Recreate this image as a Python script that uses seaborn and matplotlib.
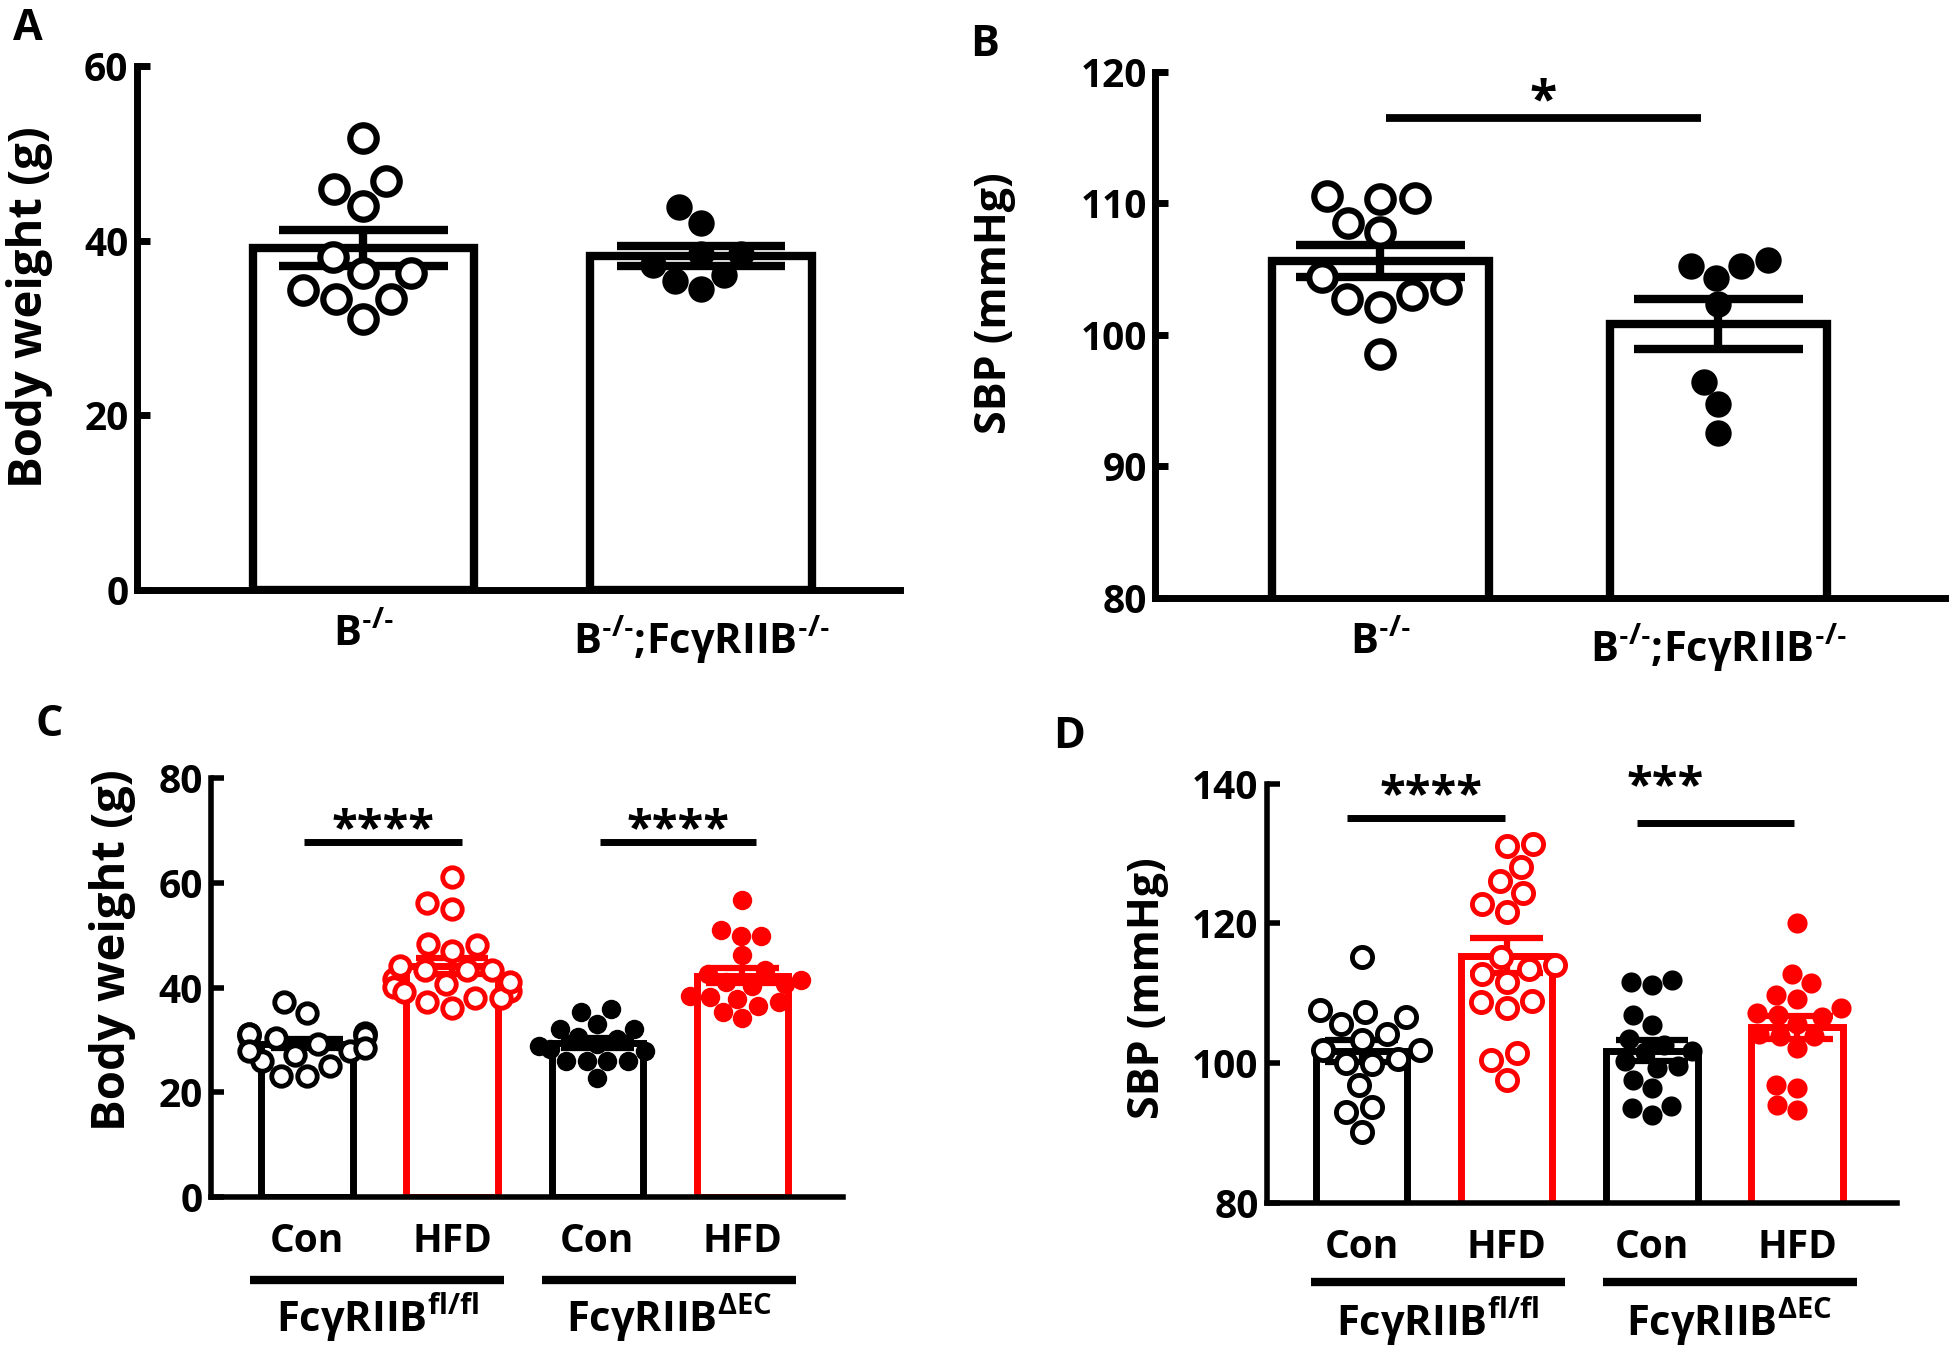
import numpy as np
import pandas as pd
import matplotlib
matplotlib.use("Agg")
from matplotlib import pyplot as plt
import seaborn as sns

# ---- data ----
# A: body weight (g)
a_ko = [51.8, 46.8, 45.9, 44.0, 38.1, 36.3, 36.3, 34.3, 33.3, 33.3, 31.0]
a_dko = [43.9, 42.0, 38.5, 38.5, 37.2, 36.1, 35.4, 34.4]
# B: SBP (mmHg)
b_ko = [110.4, 110.3, 110.5, 108.5, 107.8, 104.4, 103.5, 102.7, 103.0, 102.1, 98.5]
b_dko = [105.2, 105.2, 105.7, 104.3, 102.3, 96.4, 94.7, 92.5]
ab_labels = ["B$^{\\mathregular{‐/‐}}$", "B$^{\\mathregular{‐/‐}}$;FcγRIIB$^{\\mathregular{‐/‐}}$"]

# C: body weight (g), Con / HFD for both genotypes
c_fl_con = [37.2, 35.1, 31.1, 31.1, 30.4, 30.8, 31.1, 31.4, 30.8, 29.2, 27.9, 27.2,
            25.0, 26.0, 23.1, 23.1, 28.5, 28.0]
c_fl_hfd = [61.1, 56.1, 55.1, 48.1, 47.1, 48.4, 43.3, 43.3, 43.3, 41.7, 44.2, 39.4,
            40.1, 40.7, 39.1, 38.1, 38.1, 36.2, 37.2, 41.0]
c_ec_con = [35.9, 35.3, 33.1, 32.1, 32.1, 30.2, 30.5, 28.9, 29.2, 28.3, 26.0, 26.0,
            26.0, 26.0, 22.8, 27.9]
c_ec_hfd = [56.8, 49.9, 51.1, 49.9, 46.2, 42.6, 43.3, 41.4, 40.4, 41.0, 40.7, 38.5,
            37.9, 36.6, 34.3, 35.3, 37.2, 38.2]
# D: SBP (mmHg)
d_fl_con = [115.1, 106.6, 107.3, 107.6, 105.6, 104.1, 103.3, 101.8, 100.6, 99.9, 100.0,
            101.8, 96.8, 93.7, 93.0, 90.1]
d_fl_hfd = [131.3, 131.0, 128.0, 126.0, 124.4, 122.8, 121.6, 115.1, 114.0, 113.4, 112.8,
            111.6, 108.9, 107.8, 108.7, 101.4, 100.4, 97.5]
d_ec_con = [111.9, 111.2, 111.6, 106.8, 105.5, 103.4, 102.6, 101.7, 101.5, 99.6, 100.3,
            99.2, 97.6, 96.4, 93.8, 92.6, 93.5]
d_ec_hfd = [120.1, 112.8, 111.4, 109.7, 109.2, 107.8, 106.8, 106.6, 107.1, 105.6, 104.2,
            103.9, 103.9, 102.2, 96.4, 96.9, 93.3, 94.0]
cd_ticklabels = ["Con", "HFD", "Con", "HFD"]
cd_genotypes = ["FcγRIIB$^{\\mathregular{fl/fl}}$", "FcγRIIB$^{\\mathregular{ΔEC}}$"]

RED = "#ff0000"
BLACK = "#000000"

sns.set_style("ticks")
plt.rcParams.update({
    "font.family": ["Open Sans", "DejaVu Sans"],
    "font.weight": "bold",
    "text.color": "black",
    "axes.labelcolor": "black",
    "axes.edgecolor": "black",
    "xtick.color": "black",
    "ytick.color": "black",
    "mathtext.fontset": "custom",
    "mathtext.rm": "Open Sans:bold",
    "mathtext.it": "Open Sans:bold",
    "mathtext.bf": "Open Sans:bold",
    "mathtext.sf": "Open Sans:bold",
})


def long_df(groups):
    rows = []
    for name, vals in groups:
        rows += [(name, v) for v in vals]
    return pd.DataFrame(rows, columns=["group", "value"])


def draw(ax, groups, colors, hollow, width, msize, lw_bar, lw_err, lw_axis, mew):
    df = long_df(groups)
    order = [g for g, _ in groups]
    sns.barplot(data=df, x="group", y="value", order=order, hue="group",
                hue_order=order, palette=colors, fill=False, errorbar="se",
                capsize=0.5, width=width, linewidth=lw_bar,
                err_kws={"linewidth": lw_err, "solid_capstyle": "butt"},
                legend=False, ax=ax)
    for g, c, h in zip(order, colors, hollow):
        sub = df[df["group"] == g]
        sns.swarmplot(data=sub, x="group", y="value", order=order,
                      color="white" if h else c, edgecolor=c,
                      linewidth=mew if h else 0, size=msize, warn_thresh=1,
                      ax=ax)
    sns.despine(ax=ax)
    for s in ["left", "bottom"]:
        ax.spines[s].set_linewidth(lw_axis)
    ax.tick_params(axis="y", direction="in", length=9, width=lw_axis,
                   labelsize=28, pad=6)
    ax.tick_params(axis="x", length=0, labelsize=28, pad=18)
    ax.set_xlabel("")


def sig(ax, x1, x2, y, text, xt, yt, lw, fs):
    ax.plot([x1, x2], [y, y], color="black", lw=lw, solid_capstyle="butt", clip_on=False)
    ax.text(xt, yt, text, ha="center", va="baseline", fontsize=fs,
            fontweight="bold", clip_on=False)


fig = plt.figure(figsize=(19.5, 13.55), dpi=100)
axA = fig.add_axes([0.0701, 0.5647, 0.3915, 0.3866])
axB = fig.add_axes([0.5925, 0.5590, 0.4049, 0.3882])
axC = fig.add_axes([0.1083, 0.1166, 0.3238, 0.3089])
axD = fig.add_axes([0.6497, 0.1125, 0.3229, 0.3092])

# A
draw(axA, [("ko", a_ko), ("dko", a_dko)], [BLACK, BLACK], [True, False],
     0.656, 19, 6, 6, 5, 4.5)
axA.set_xlim(-0.672, 1.59)
axA.set_ylim(0, 60)
axA.set_yticks([0, 20, 40, 60])
axA.set_xticks([0, 1])
axA.set_xticklabels(ab_labels, fontsize=30)
axA.set_ylabel("Body weight (g)", fontsize=34, fontweight="bold", va="center")
axA.yaxis.set_label_coords(-0.141, 0.54)

# B
draw(axB, [("ko", b_ko), ("dko", b_dko)], [BLACK, BLACK], [True, False],
     0.64, 19, 6, 6, 5, 4.5)
axB.set_xlim(-0.666, 1.67)
axB.set_ylim(80, 120)
axB.set_yticks([80, 90, 100, 110, 120])
axB.set_xticks([0, 1])
axB.set_xticklabels(ab_labels, fontsize=30)
axB.set_ylabel("SBP (mmHg)", fontsize=31, fontweight="bold", va="center")
axB.yaxis.set_label_coords(-0.204, 0.56)
sig(axB, 0.015, 0.947, 116.5, "*", 0.48, 116.7, 5.6, 36)

# C
c_groups = [("fl_con", c_fl_con), ("fl_hfd", c_fl_hfd),
            ("ec_con", c_ec_con), ("ec_hfd", c_ec_hfd)]
d_groups = [("fl_con", d_fl_con), ("fl_hfd", d_fl_hfd),
            ("ec_con", d_ec_con), ("ec_hfd", d_ec_hfd)]
cd_colors = [BLACK, RED, BLACK, RED]

draw(axC, c_groups, cd_colors, [True, True, False, False],
     0.63, 14, 5, 4.5, 4, 3.5)
axC.set_xlim(-0.66, 3.69)
axC.set_ylim(0, 80)
axC.set_yticks([0, 20, 40, 60, 80])
axC.set_ylabel("Body weight (g)", fontsize=34, fontweight="bold", va="center")
axC.yaxis.set_label_coords(-0.157, 0.59)
sig(axC, -0.02, 1.07, 67.8, "****", 0.525, 67.6, 5, 34)
sig(axC, 2.02, 3.09, 67.8, "****", 2.555, 67.6, 5, 34)

# D
draw(axD, d_groups, cd_colors, [True, True, False, False],
     0.63, 14.5, 5, 4.5, 4, 3.5)
axD.set_xlim(-0.652, 3.685)
axD.set_ylim(80, 140)
axD.set_yticks([80, 100, 120, 140])
axD.set_ylabel("SBP (mmHg)", fontsize=31, fontweight="bold", va="center")
axD.yaxis.set_label_coords(-0.19, 0.512)
sig(axD, -0.1, 0.99, 135.1, "****", 0.48, 136.4, 5, 34)
sig(axD, 1.9, 2.98, 134.3, "***", 2.09, 137.6, 5, 34)

for ax, spans, ly, ty in [(axC, [(-0.39, 1.36), (1.62, 3.37)], -0.198, -0.289),
                          (axD, [(-0.35, 1.40), (1.66, 3.41)], -0.189, -0.285)]:
    ax.set_xticks(range(4))
    ax.set_xticklabels(cd_ticklabels)
    tr = ax.get_xaxis_transform()
    for (x1, x2), name in zip(spans, cd_genotypes):
        ax.plot([x1, x2], [ly, ly], color="black", lw=6, transform=tr,
                solid_capstyle="butt", clip_on=False)
        ax.text((x1 + x2) / 2, ty, name, transform=tr, ha="center", va="center",
                fontsize=30, fontweight="bold")

# panel letters
for letter, x, y in [("A", 28, 28), ("B", 985, 44), ("C", 49, 724), ("D", 1069, 736)]:
    fig.text(x / 1950, 1 - y / 1355, letter, ha="center", va="center",
             fontsize=31, fontweight="bold")

fig.savefig("out.png", dpi=100)
